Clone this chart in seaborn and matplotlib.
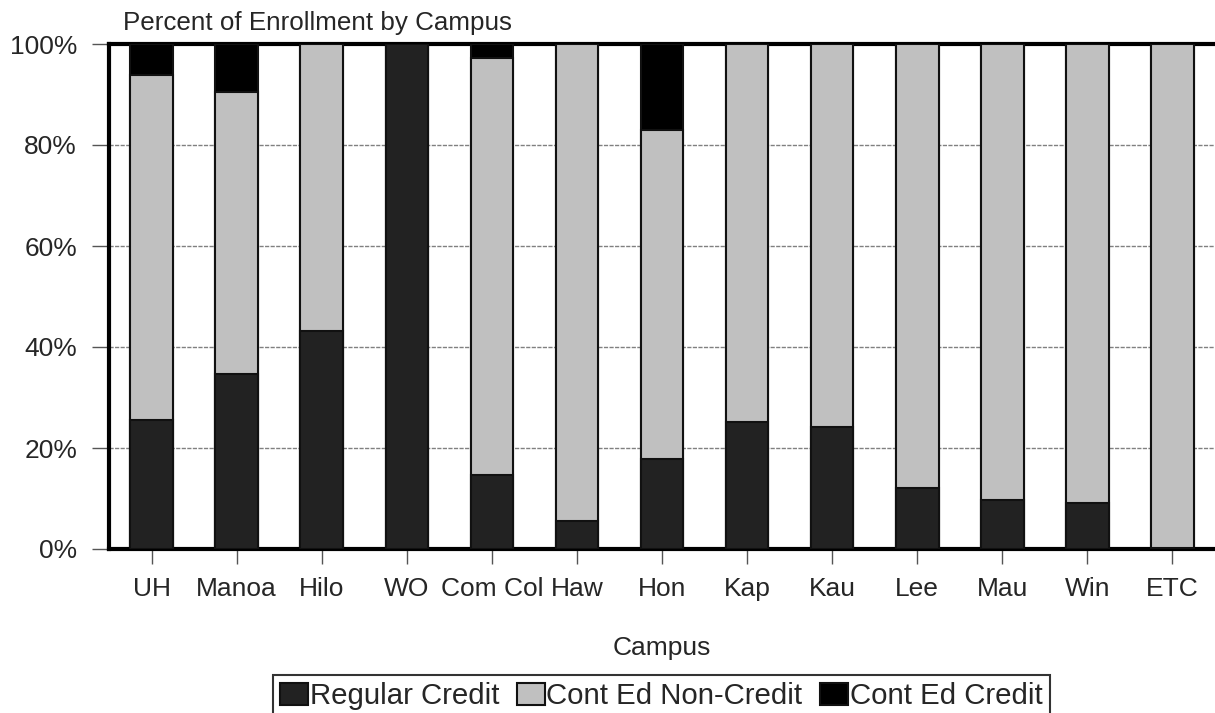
import matplotlib
matplotlib.use("Agg")
import matplotlib.pyplot as plt
import seaborn as sns
import pandas as pd
import numpy as np
from matplotlib.patches import Patch

campuses = ["UH", "Manoa", "Hilo", "WO", "Com Col", "Haw", "Hon", "Kap", "Kau", "Lee", "Mau", "Win", "ETC"]
regular_credit = [25.5, 34.7, 43.1, 100.0, 14.7, 5.6, 17.9, 25.1, 24.2, 12.1, 9.7, 9.2, 0.2]
cont_ed_noncredit = [68.4, 55.7, 56.9, 0.0, 82.5, 94.4, 65.1, 74.9, 75.8, 87.9, 90.3, 90.8, 99.8]
cont_ed_credit = [6.1, 9.6, 0.0, 0.0, 2.8, 0.0, 17.0, 0.0, 0.0, 0.0, 0.0, 0.0, 0.0]
series_names = ["Regular Credit", "Cont Ed Non-Credit", "Cont Ed Credit"]
yticks = [0, 20, 40, 60, 80, 100]

colors = ["#222222", "#c0c0c0", "#000000"]

df = pd.DataFrame({
    "campus": campuses,
    "regular": regular_credit,
    "noncredit": cont_ed_noncredit,
    "credit": cont_ed_credit,
})
df["top_nc"] = df["regular"] + df["noncredit"]
df["total"] = df["top_nc"] + df["credit"]

sns.set_style("white")
plt.rcParams["font.family"] = ["Liberation Sans", "DejaVu Sans"]

fig = plt.figure(figsize=(12.15, 7.13), dpi=100)
ax = fig.add_axes([109 / 1215, 1 - 549 / 713, (1215 - 109) / 1215, 505 / 713])

common = dict(data=df, x="campus", order=campuses, width=0.5, saturation=1,
              edgecolor="#111111", linewidth=1.5, ax=ax, zorder=3)
sns.barplot(y="total", color=colors[2], **common)
sns.barplot(y="top_nc", color=colors[1], **common)
sns.barplot(y="regular", color=colors[0], **common)

ax.set_xlim(-0.5, 12.5)
ax.set_ylim(0, 100)
ax.set_yticks(yticks)
ax.set_yticklabels([f"{v}%" for v in yticks])
ax.set_ylabel("")
ax.yaxis.grid(True, linestyle=(0, (3, 1)), color="#808080", linewidth=1)
ax.set_axisbelow(True)

for s in ["left", "top", "bottom"]:
    ax.spines[s].set_visible(True)
    ax.spines[s].set_color("black")
    ax.spines[s].set_linewidth(3)
ax.spines["right"].set_visible(False)

ax.tick_params(axis="y", left=True, length=12, width=1, color="#555555", pad=11, labelsize=19)
ax.tick_params(axis="x", bottom=True, length=11, width=1, color="#555555", pad=9, labelsize=19)

ax.set_xlabel("Campus", fontsize=19, va="center")
ax.xaxis.set_label_coords(0.5, -(648 - 549) / 505)

fig.text(123 / 1215, 1 - 30 / 713, "Percent of Enrollment by Campus", fontsize=18.7,
         ha="left", va="baseline")

handles = [Patch(facecolor=c, edgecolor="#111111", linewidth=1.5, label=n)
           for c, n in zip(colors, series_names)]
leg = ax.legend(handles=handles, loc="upper center", bbox_to_anchor=(0.4995, -(675 - 549) / 505),
                ncol=3, frameon=True, fancybox=False, fontsize=21.2, handlelength=0.95,
                handleheight=0.8, handletextpad=0.05, columnspacing=0.6, borderpad=0.25,
                borderaxespad=0)
leg.get_frame().set_edgecolor("black")
leg.get_frame().set_linewidth(1.5)

fig.savefig("out.png", dpi=100)
